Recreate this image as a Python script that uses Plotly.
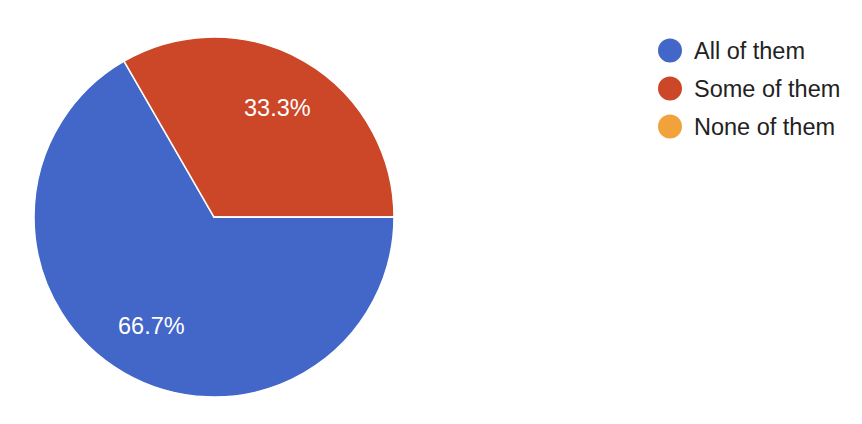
import math
import plotly.graph_objects as go

labels = ["All of them", "Some of them", "None of them"]
values = [2, 1, 0]
colors = ["#4267C9", "#CB4727", "#F1A23A"]

W, H = 862, 424
cx, cy, r = 206, 209, 180   # pie centre / radius in px
start = 90                  # first slice starts at 3 o'clock

fig = go.Figure()

fig.add_trace(go.Pie(
    labels=labels,
    values=values,
    sort=False,
    direction="clockwise",
    rotation=start,
    marker=dict(colors=colors, line=dict(color="white", width=1.5)),
    textinfo="none",
    showlegend=False,
    hoverinfo="label+percent",
    domain=dict(x=[(cx - r) / W, (cx + r) / W], y=[1 - (cy + r) / H, 1 - (cy - r) / H]),
))

# percentage labels placed further out than plotly's default
total = sum(values)
ang = start
annotations = []
for v in values:
    if v == 0:
        continue
    sweep = 360 * v / total
    mid = math.radians(ang + sweep / 2)
    px = cx + 0.70 * r * math.sin(mid)
    py = cy - 0.70 * r * math.cos(mid)
    annotations.append(dict(
        x=px / W, y=1 - py / H, xref="paper", yref="paper",
        xanchor="center", yanchor="middle",
        text=f"{100 * v / total:.1f}%", showarrow=False,
        font=dict(color="white", size=23.5),
    ))
    ang += sweep

# legend with round markers
shapes = []
for i, (name, col) in enumerate(zip(labels, colors)):
    ry = 42.5 + 38 * i
    shapes.append(dict(
        type="circle", xref="paper", yref="paper",
        x0=650 / W, x1=674 / W, y0=1 - (ry + 12) / H, y1=1 - (ry - 12) / H,
        fillcolor=col, line=dict(width=0),
    ))
    annotations.append(dict(
        x=684 / W, y=1 - ry / H, xref="paper", yref="paper",
        xanchor="left", yanchor="middle", text=name, showarrow=False,
        font=dict(color="#222222", size=23.5),
    ))

fig.update_layout(
    width=W, height=H,
    margin=dict(l=0, r=0, t=0, b=0),
    paper_bgcolor="white",
    font=dict(family="Liberation Sans, Arial", color="#222222"),
    shapes=shapes,
    annotations=annotations,
)

fig.write_html("out.html")
